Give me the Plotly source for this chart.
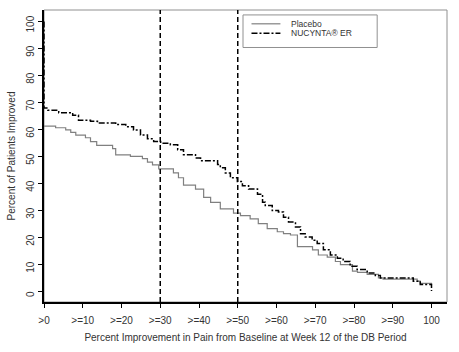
import plotly.graph_objects as go

# Placebo step curve (x = percent improvement threshold, y = percent of patients)
placebo_x = [0, 3.0, 5.6, 6.9, 8.2, 10.7, 12.0, 13.6, 17.7, 18.5, 22.3, 25.4, 26.7, 28.0, 29.6,
             33.4, 34.7, 36.0, 39.1, 41.2, 43.0, 45.5, 48.9, 50.7, 53.2, 55.3, 57.6, 60.2, 61.8,
             63.6, 65.4, 69.3, 70.8, 73.1, 75.2, 76.5, 79.6, 80.9, 83.4, 86.3, 87.5, 96.3, 97.1, 100]
placebo_y = [61.3, 60.7, 59.9, 59.0, 58.0, 57.0, 55.6, 54.2, 53.0, 50.7, 50.1, 49.3, 48.0, 47.0, 45.5,
             44.0, 42.2, 39.5, 38.0, 34.9, 33.1, 30.7, 29.1, 28.2, 27.0, 25.2, 23.4, 22.2, 21.5,
             21.0, 16.7, 15.5, 13.6, 12.8, 11.2, 10.0, 7.6, 7.2, 6.4, 5.1, 4.7, 3.9, 3.1, 2.5]

# NUCYNTA ER step curve
nucynta_x = [0, 0, 1.0, 3.8, 7.4, 8.9, 12.0, 13.8, 18.5, 21.1, 23.1, 24.9, 26.7, 28.3, 30.1,
             32.6, 34.5, 36.0, 39.1, 40.4, 44.8, 45.5, 46.8, 48.1, 49.9, 51.2, 52.8, 55.1, 56.4,
             57.1, 58.9, 60.5, 61.8, 63.1, 64.9, 66.2, 67.4, 69.2, 70.5, 72.1, 73.9, 75.7, 77.2,
             79.0, 80.8, 83.4, 85.5, 86.8, 95.3, 97.1, 100, 100]
nucynta_y = [100, 68.0, 67.2, 66.3, 65.3, 63.5, 63.1, 62.5, 61.9, 61.1, 59.9, 58.0, 56.6, 55.6, 55.0,
             54.4, 52.6, 50.7, 49.5, 48.5, 47.1, 45.9, 44.0, 42.2, 40.8, 39.2, 38.0, 36.1, 33.1,
             31.9, 30.1, 29.5, 27.6, 25.8, 24.0, 21.5, 20.3, 19.1, 17.9, 15.5, 13.6, 12.4, 11.2,
             9.4, 8.2, 6.9, 6.0, 5.1, 3.9, 2.7, 2.7, 0.3]

x_ticks = [0, 10, 20, 30, 40, 50, 60, 70, 80, 90, 100]
x_labels = [">0", ">=10", ">=20", ">=30", ">=40", ">=50", ">=60", ">=70", ">=80", ">=90", "100"]
y_ticks = [0, 10, 20, 30, 40, 50, 60, 70, 80, 90, 100]
ref_lines = [30, 50]
series_names = ["Placebo", "NUCYNTA\u00ae ER"]

FONT = "Liberation Sans, Arial, sans-serif"
TXT = "#333333"
PLAC_LINE = dict(color="#808080", width=1.2)
NUC_LINE = dict(color="black", width=1.5, dash="6px,2px,2px,2px")

fig = go.Figure()
fig.add_trace(go.Scatter(x=placebo_x, y=placebo_y, mode="lines", name=series_names[0],
                         line=dict(shape="hv", **PLAC_LINE)))
fig.add_trace(go.Scatter(x=nucynta_x, y=nucynta_y, mode="lines", name=series_names[1],
                         line=dict(shape="hv", **NUC_LINE)))

for xv in ref_lines:
    fig.add_shape(type="line", xref="x", yref="paper", x0=xv, x1=xv, y0=0, y1=1,
                  line=dict(color="black", width=1.5, dash="5px,3px"))

# gray frame
fig.add_shape(type="rect", xref="paper", yref="paper", x0=0, x1=1, y0=0, y1=1,
              line=dict(color="#909090", width=1), layer="below")

# legend box (paper coords: plot spans px 43..447 horizontally, 10..306 vertically)
W, H = 404.0, 296.0
def px(xp):
    return (xp - 43) / W
def py(yp):
    return 1 - (yp - 10) / H

fig.add_shape(type="rect", xref="paper", yref="paper", x0=px(242.5), x1=px(377), y0=py(48), y1=py(15),
              line=dict(color="#909090", width=1), fillcolor="white")
rows = [24.0, 33.5]
styles = [PLAC_LINE, NUC_LINE]
for name, yy, st in zip(series_names, rows, styles):
    fig.add_shape(type="line", xref="paper", yref="paper", x0=px(251), x1=px(280), y0=py(yy), y1=py(yy),
                  line=st)
    fig.add_annotation(text=name, xref="paper", yref="paper", x=px(289.5), y=py(yy),
                       xanchor="left", yanchor="middle", showarrow=False, borderpad=0,
                       font=dict(size=8.5, color=TXT, family=FONT))

fig.update_layout(
    width=459, height=352,
    margin=dict(l=43, r=12, t=10, b=46),
    plot_bgcolor="white", paper_bgcolor="white",
    font=dict(family=FONT, size=10, color=TXT),
    showlegend=False,
    xaxis=dict(range=[0, 104], tickvals=x_ticks, ticktext=x_labels, showgrid=False, zeroline=False,
               showline=True, linecolor="black", linewidth=1.5, ticks="outside", ticklen=4,
               tickcolor="black", tickfont=dict(size=10, color=TXT), ticklabelstandoff=4,
               title=dict(text="Percent Improvement in Pain from Baseline at Week 12 of the DB Period",
                          font=dict(size=10, color=TXT), standoff=9)),
    yaxis=dict(range=[-3.8, 104.3], tickvals=y_ticks, showgrid=False, zeroline=False,
               showline=True, linecolor="black", linewidth=1.5, ticks="outside", ticklen=4,
               tickcolor="black", tickangle=-90, tickfont=dict(size=10, color=TXT),
               ticklabelstandoff=0, ticklabelshift=4,
               title=dict(text="Percent of Patients Improved", font=dict(size=10, color=TXT), standoff=8)),
)

fig.write_html("out.html")
